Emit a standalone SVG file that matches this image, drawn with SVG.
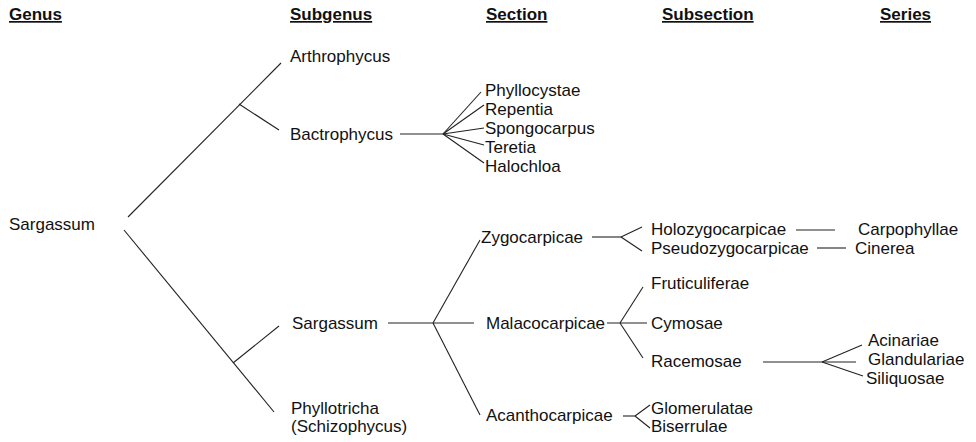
<svg xmlns="http://www.w3.org/2000/svg" width="976" height="442" viewBox="0 0 976 442">
<style>
text{font-family:"Liberation Sans",Arial,Helvetica,sans-serif;font-size:17px;fill:#111}
.h{font-weight:bold;text-decoration:underline}
#connectors line{stroke:#222;stroke-width:1.1;fill:none}
</style>
<rect width="976" height="442" fill="#fff"/>
<g id="headers">
<text class="h" x="9" y="20">Genus</text>
<text class="h" x="290" y="20">Subgenus</text>
<text class="h" x="486" y="20">Section</text>
<text class="h" x="662" y="20">Subsection</text>
<text class="h" x="880" y="20">Series</text>
</g>
<g id="connectors">
<line x1="128" y1="217" x2="281" y2="63"/>
<line x1="124" y1="230" x2="274" y2="412"/>
<line x1="239" y1="104" x2="279" y2="130"/>
<line x1="233" y1="363" x2="279" y2="326"/>
<line x1="400" y1="134" x2="443" y2="134"/>
<line x1="443" y1="134" x2="481" y2="92"/>
<line x1="443" y1="134" x2="484" y2="105"/>
<line x1="443" y1="134" x2="484" y2="128"/>
<line x1="443" y1="134" x2="484" y2="145"/>
<line x1="443" y1="134" x2="484" y2="163"/>
<line x1="388" y1="323" x2="474" y2="323"/>
<line x1="433" y1="323" x2="480" y2="240"/>
<line x1="433" y1="323" x2="480" y2="415"/>
<line x1="592" y1="237" x2="621" y2="237"/>
<line x1="621" y1="237" x2="642" y2="227"/>
<line x1="621" y1="237" x2="642" y2="251"/>
<line x1="607" y1="323" x2="647" y2="323"/>
<line x1="620" y1="323" x2="643" y2="287"/>
<line x1="620" y1="323" x2="643" y2="358"/>
<line x1="623" y1="416" x2="635" y2="416"/>
<line x1="635" y1="416" x2="650" y2="405"/>
<line x1="635" y1="416" x2="650" y2="428"/>
<line x1="796" y1="230" x2="835" y2="230"/>
<line x1="817" y1="248" x2="846" y2="248"/>
<line x1="763" y1="362" x2="822" y2="362"/>
<line x1="822" y1="362" x2="862" y2="345"/>
<line x1="822" y1="362" x2="856" y2="362"/>
<line x1="822" y1="362" x2="863" y2="376"/>
</g>
<g id="genus-sargassum"><text x="9" y="230">Sargassum</text></g>
<g id="subgenus-arthrophycus"><text x="290" y="62">Arthrophycus</text></g>
<g id="subgenus-bactrophycus"><text x="290" y="140">Bactrophycus</text></g>
<g id="subgenus-sargassum"><text x="292" y="329">Sargassum</text></g>
<g id="subgenus-phyllotricha"><text x="291" y="414">Phyllotricha</text><text x="291" y="432">(Schizophycus)</text></g>
<g id="section-phyllocystae"><text x="485" y="96">Phyllocystae</text></g>
<g id="section-repentia"><text x="485" y="115">Repentia</text></g>
<g id="section-spongocarpus"><text x="485" y="134">Spongocarpus</text></g>
<g id="section-teretia"><text x="485" y="153">Teretia</text></g>
<g id="section-halochloa"><text x="485" y="172">Halochloa</text></g>
<g id="section-zygocarpicae"><text x="481" y="243">Zygocarpicae</text></g>
<g id="section-malacocarpicae"><text x="486" y="329">Malacocarpicae</text></g>
<g id="section-acanthocarpicae"><text x="486" y="421">Acanthocarpicae</text></g>
<g id="subsection-holozygocarpicae"><text x="651" y="235">Holozygocarpicae</text></g>
<g id="subsection-pseudozygocarpicae"><text x="651" y="254">Pseudozygocarpicae</text></g>
<g id="subsection-fruticuliferae"><text x="651" y="289">Fruticuliferae</text></g>
<g id="subsection-cymosae"><text x="651" y="329">Cymosae</text></g>
<g id="subsection-racemosae"><text x="651" y="367">Racemosae</text></g>
<g id="subsection-glomerulatae"><text x="651" y="414">Glomerulatae</text></g>
<g id="subsection-biserrulae"><text x="651" y="432">Biserrulae</text></g>
<g id="series-carpophyllae"><text x="858" y="235">Carpophyllae</text></g>
<g id="series-cinerea"><text x="855" y="254">Cinerea</text></g>
<g id="series-acinariae"><text x="868" y="346">Acinariae</text></g>
<g id="series-glandulariae"><text x="868" y="365">Glandulariae</text></g>
<g id="series-siliquosae"><text x="866" y="384">Siliquosae</text></g>
</svg>
